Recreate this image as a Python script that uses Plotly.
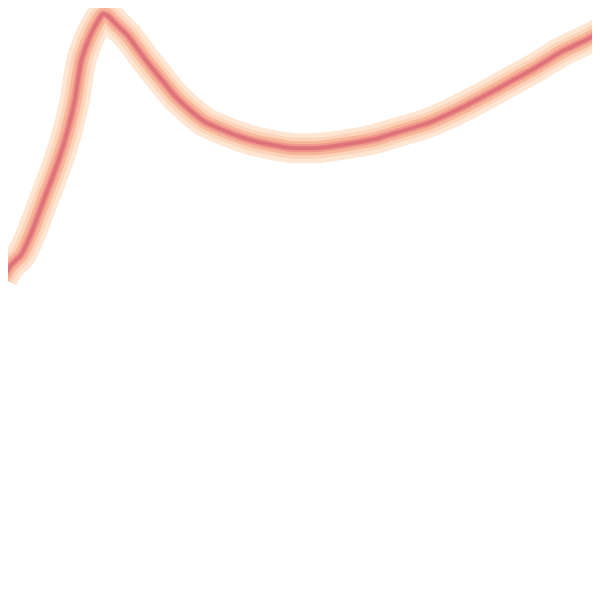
import plotly.graph_objects as go

x_vals = [-5, 3, 13, 23, 35, 50, 60, 67, 73, 80, 87, 95, 100, 107, 120, 137, 153, 167, 183, 197, 210,
          233, 250, 283, 310, 340, 367, 387, 420, 447, 480, 507, 527, 553, 580, 605]
y_vals = [600 - v for v in [270, 257, 247, 226, 194, 154, 121, 91, 54, 33, 18, 6, 8, 15, 28, 51, 71, 88, 103, 114, 120,
          129, 134, 140, 140, 136, 131, 125, 115, 103, 86, 71, 60, 44, 31, 17]]

# glow layers: (width, colour) from outer to inner
layers = [
    (30, "rgba(254,230,210,1)"),
    (21, "rgba(252,212,186,1)"),
    (14, "rgba(247,182,154,1)"),
    (8, "rgba(240,150,139,1)"),
    (4, "rgba(222,116,122,1)"),
]

fig = go.Figure()
for w, c in layers:
    fig.add_trace(go.Scatter(
        x=x_vals, y=y_vals, mode="lines",
        line=dict(color=c, width=w, shape="spline", smoothing=0.5),
        hoverinfo="skip", showlegend=False,
    ))

fig.update_layout(
    width=600, height=600,
    margin=dict(l=0, r=0, t=0, b=0),
    paper_bgcolor="white", plot_bgcolor="white",
    xaxis=dict(range=[0, 600], visible=False),
    yaxis=dict(range=[0, 600], visible=False),
    showlegend=False,
)
fig.write_html("out.html")
